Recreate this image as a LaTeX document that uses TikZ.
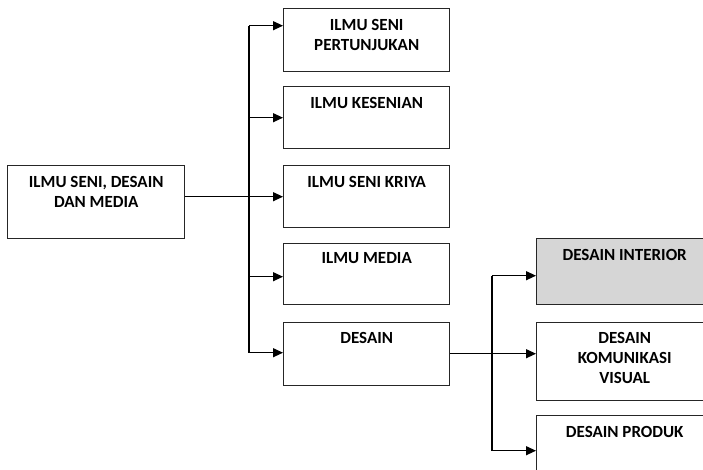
\documentclass[tikz,border=0pt]{standalone}
\usepackage{fontspec}
\setmainfont{Carlito}
\usetikzlibrary{arrows.meta}
\begin{document}
\begin{tikzpicture}[x=1pt,y=-1pt,
  box/.style={draw=black!85, line width=1.4pt, inner sep=0pt, anchor=north west},
  lbl/.style={font=\bfseries\fontsize{17}{20}\selectfont, align=center, anchor=north, inner sep=0pt, text=black},
  wire/.style={line width=1.2pt, draw=black},
  arr/.style={wire, -{Triangle[length=10pt,width=9pt]}}]
\useasboundingbox (0,0) rectangle (703,469);
\clip (0,0) rectangle (703,469);

% root
\node[box, minimum width=177pt, minimum height=73pt] (root) at (7,165) {};
\node[lbl] (rootT) at ([yshift=-11pt]root.north) {ILMU SENI, DESAIN\\DAN MEDIA};

% first level
\node[box, minimum width=166pt, minimum height=63pt] (pert) at (283,8) {};
\node[box, minimum width=166pt, minimum height=62pt] (kes) at (283,86) {};
\node[box, minimum width=166pt, minimum height=62pt] (kriya) at (283,165) {};
\node[box, minimum width=166pt, minimum height=61pt] (media) at (283,243) {};
\node[box, minimum width=166pt, minimum height=63pt] (des) at (283,322) {};
\node[lbl] (pertT) at ([yshift=-11pt]pert.north) {ILMU SENI\\PERTUNJUKAN};
\node[lbl] (kesT) at ([yshift=-11pt]kes.north) {ILMU KESENIAN};
\node[lbl] (kriyaT) at ([yshift=-11pt]kriya.north) {ILMU SENI KRIYA};
\node[lbl] (mediaT) at ([yshift=-9.5pt]media.north) {ILMU MEDIA};
\node[lbl] (desT) at ([yshift=-10.5pt]des.north) {DESAIN};

% second level
\node[box, fill=black!16, minimum width=176pt, minimum height=66pt] (int) at (536,238) {};
\node[box, minimum width=176pt, minimum height=78pt] (dkv) at (536,322) {};
\node[box, minimum width=176pt, minimum height=70pt] (prod) at (536,415) {};
\node[lbl] (intT) at ([yshift=-11.5pt]int.north) {DESAIN INTERIOR};
\node[lbl] (dkvT) at ([yshift=-10.5pt]dkv.north) {DESAIN\\KOMUNIKASI\\VISUAL};
\node[lbl] (prodT) at ([yshift=-11.5pt]prod.north) {DESAIN PRODUK};

% entry points of the branch arrows
\coordinate (in1) at ([yshift=14.5pt]pert.west);
\coordinate (in2) at (kes.west);
\coordinate (in3) at (kriya.west);
\coordinate (in4) at ([yshift=-2.5pt]media.west);
\coordinate (in5) at ([yshift=1.5pt]des.west);
\coordinate (t) at (249,0);

\coordinate (s1) at ([yshift=-4pt]int.west);
\coordinate (s2) at ([yshift=8pt]dkv.west);
\coordinate (s3) at (prod.west);
\coordinate (s) at (492,0);

% first level connectors
\draw[arr] (root.east |- in3) -- (in3);
\draw[wire] (t |- in1) -- (t |- in5);
\foreach \i in {1,2,4,5} \draw[arr] (t |- in\i) -- (in\i);

% second level connectors
\draw[arr] (des.east |- s2) -- (s2);
\draw[wire] (s |- s1) -- (s |- s3);
\foreach \i in {1,3} \draw[arr] (s |- s\i) -- (s\i);
\end{tikzpicture}
\end{document}
